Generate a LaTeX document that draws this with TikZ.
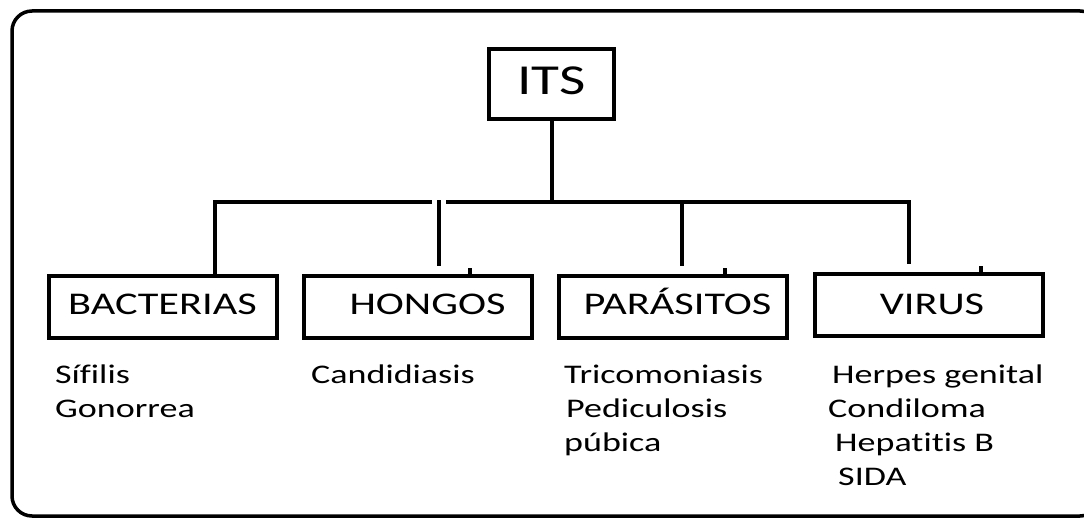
\documentclass[tikz,border=0pt]{standalone}
\usepackage{fontspec}
\setmainfont{Carlito}[FakeStretch=1.34, Ligatures=NoCommon]
\usepackage{tikz}

\begin{document}
\begin{tikzpicture}[x=1pt, y=-1pt,
    caja/.style={draw, line width=4pt, minimum width=228pt, minimum height=62pt, inner sep=0pt,
      text height=20pt, text depth=6pt, font=\fontsize{31.6}{38}\selectfont},
    enfermedad/.style={anchor=base west, inner sep=0pt, font=\fontsize{26.9}{34}\selectfont},
    conector/.style={line width=4pt}]
                \useasboundingbox (0,0) rectangle (1084,519);
                % Marco
                \draw[line width=3.5pt, rounded corners=20pt] (12,11) rectangle (1100,516);
                % ITS
                \node[caja, minimum width=125pt, minimum height=70pt, text height=27pt, text depth=5pt,
                  font=\fontsize{42.7}{50}\selectfont] (its) at (551.5,84) {ITS};
                % Grupos
                \node[caja] (bac) at (162.5,307) {BACTERIAS};
                \node[caja] (hon) at (417.5,307) {\hspace*{20pt}HONGOS};
                \node[caja] (par) at (672.5,307) {\hspace*{10pt}PARÁSITOS};
                \node[caja, text depth=2pt] (vir) at (929,305) {\hspace*{6pt}VIRUS};
                % Barra
                \coordinate (barra) at (0,202);
                \coordinate (rB) at (215,202);
                \coordinate (rH) at (439,202);
                \coordinate (rP) at (682,202);
                \coordinate (rV) at (909,202);
                \draw[conector] (its.south) -- (its.south |- barra);
                \draw[conector] (rB |- bac.north) -- (rB) -- ([xshift=-7pt]rH);
                \draw[conector, shorten >=8pt] ([xshift=7pt]rH) -- (rV) -- (rV |- vir.north);
                \draw[conector, shorten >=8pt] ([yshift=2pt]rH) -- (rH |- hon.north);
                \draw[conector, shorten >=8pt] (rP) -- (rP |- par.north);
                % Marcas
                \foreach \g in {hon, par, vir}
                  \draw[conector] ([xshift=52pt]\g.north) -- ++(0pt,6pt);
                % Bacterias
                \node[enfermedad] (sifilis) at (55,383) {Sífilis};
                \node[enfermedad] (gonorrea) at (55,417) {Gonorrea};
                % Hongos
                \node[enfermedad] (candidiasis) at (311,383) {Candidiasis};
                % Parasitos
                \node[enfermedad] (tricomoniasis) at (564,383) {Tricomoniasis};
                \node[enfermedad] (pediculosis) at (566,417) {Pediculosis};
                \node[enfermedad] (pubica) at (564,451) {púbica};
                % Virus
                \node[enfermedad] (herpes) at (832,383) {Herpes genital};
                \node[enfermedad] (condiloma) at (828,417) {Condiloma};
                \node[enfermedad] (hepatitis) at (835,451) {Hepatitis B};
                \node[enfermedad] (sida) at (838,485) {SIDA};
            \end{tikzpicture}
\end{document}
